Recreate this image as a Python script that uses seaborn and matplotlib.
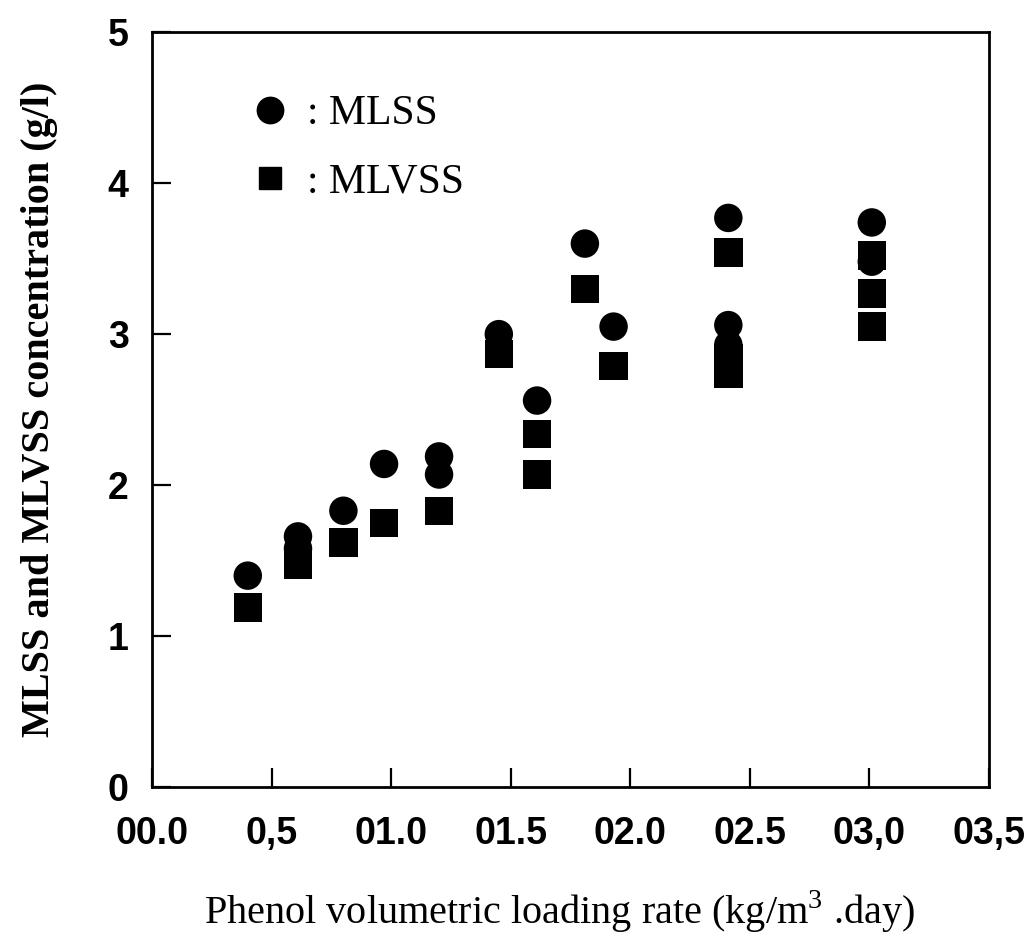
import matplotlib
matplotlib.use("Agg")
import matplotlib.pyplot as plt
from matplotlib.lines import Line2D
import seaborn as sns
import pandas as pd

# ---- data ----
mlss_x = [0.40, 0.61, 0.61, 0.80, 0.97, 1.20, 1.20, 1.45, 1.61, 1.81, 1.93, 2.41, 2.41, 2.41, 3.01, 3.01]
mlss_y = [1.40, 1.66, 1.58, 1.83, 2.14, 2.19, 2.07, 3.00, 2.56, 3.60, 3.05, 3.77, 3.06, 2.93, 3.74, 3.48]

mlvss_x = [0.40, 0.61, 0.80, 0.97, 1.20, 1.45, 1.61, 1.61, 1.81, 1.93, 2.41, 2.41, 2.41, 3.01, 3.01, 3.01]
mlvss_y = [1.19, 1.47, 1.62, 1.75, 1.83, 2.87, 2.34, 2.07, 3.30, 2.79, 3.54, 2.84, 2.74, 3.52, 3.27, 3.05]

series_names = ["MLSS", "MLVSS"]
legend_labels = [": MLSS", ": MLVSS"]

x_ticks = [0.0, 0.5, 1.0, 1.5, 2.0, 2.5, 3.0, 3.5]
x_ticklabels = ["00.0", "0,5", "01.0", "01.5", "02.0", "02.5", "03,0", "03,5"]
y_ticks = [0, 1, 2, 3, 4, 5]
y_ticklabels = ["0", "1", "2", "3", "4", "5"]

x_title = "Phenol volumetric loading rate (kg/m$^3$ .day)"
y_title = "MLSS and MLVSS concentration (g/l)"

df = pd.DataFrame({
    "x": mlss_x + mlvss_x,
    "y": mlss_y + mlvss_y,
    "series": [series_names[0]] * len(mlss_x) + [series_names[1]] * len(mlvss_x),
})

sns.set_style("ticks", {"text.color": "black", "axes.labelcolor": "black",
                        "xtick.color": "black", "ytick.color": "black",
                        "axes.edgecolor": "black"})
plt.rcParams["font.family"] = ["Liberation Sans", "DejaVu Sans"]
plt.rcParams["mathtext.fontset"] = "custom"
plt.rcParams["mathtext.rm"] = "Liberation Serif"

fig = plt.figure(figsize=(10.28, 9.41), dpi=100)
ax = fig.add_axes([0.148, 0.1637, 0.814, 0.802])

sns.scatterplot(
    data=df, x="x", y="y", style="series",
    markers={"MLSS": "o", "MLVSS": "s"},
    color="black", s=420, linewidth=0, legend=False, ax=ax, zorder=3,
)

ax.set_xlim(0, 3.5)
ax.set_ylim(0, 5)
ax.set_xticks(x_ticks)
ax.set_xticklabels(x_ticklabels, fontsize=27, fontweight="bold")
ax.set_yticks(y_ticks)
ax.set_yticklabels(y_ticklabels, fontsize=27, fontweight="bold")
ax.tick_params(axis="both", direction="in", length=14, width=1.6, color="black")
ax.tick_params(axis="x", pad=21)
ax.tick_params(axis="y", pad=17)

for side in ["left", "right", "top", "bottom"]:
    ax.spines[side].set_visible(True)
    ax.spines[side].set_linewidth(2.0)
    ax.spines[side].set_color("black")

ax.set_xlabel(x_title, fontsize=29, family="Liberation Serif", labelpad=22)
ax.xaxis.set_label_coords(0.487, -0.135)
ax.xaxis.label.set_va("top")
ax.set_ylabel(y_title, fontsize=29, family="Liberation Serif", fontweight="bold", labelpad=36)

handles = [
    Line2D([], [], marker="o", color="black", linestyle="", markersize=19),
    Line2D([], [], marker="s", color="black", linestyle="", markersize=16),
]
ax.legend(handles, legend_labels, loc="upper left", bbox_to_anchor=(0.071, 0.967),
          frameon=False, prop={"family": "Liberation Serif", "size": 30},
          labelspacing=0.72, handletextpad=0.4, handlelength=1.0, borderpad=0.4)

fig.savefig("out.png", dpi=100)
